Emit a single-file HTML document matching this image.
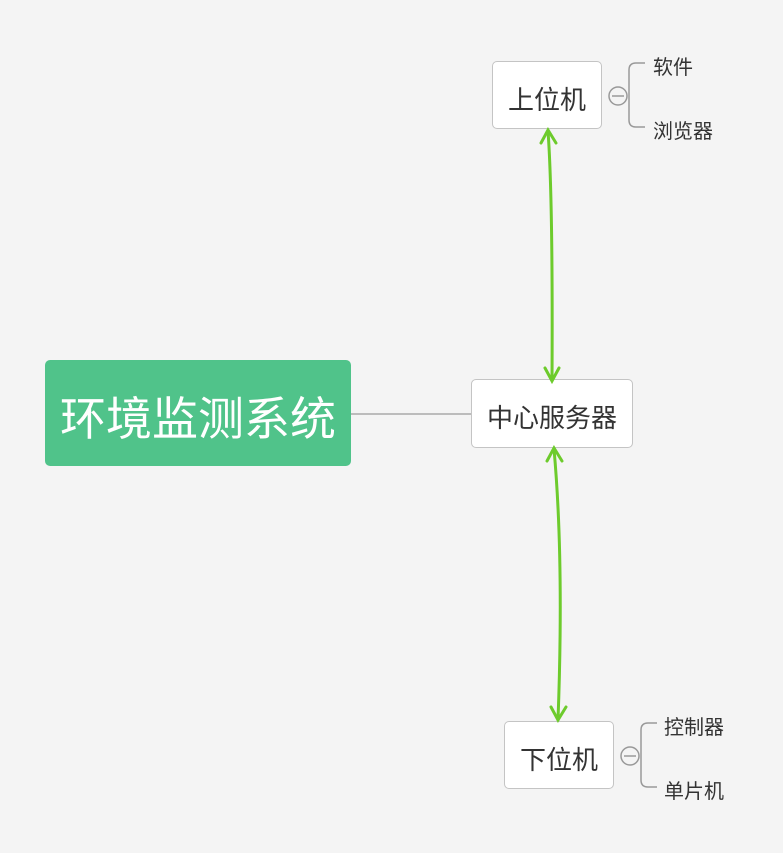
<!DOCTYPE html>
<html><head><meta charset="utf-8"><style>
body{margin:0;width:783px;height:853px;background:#f4f4f4;position:relative;overflow:hidden;font-family:"Liberation Sans","Noto Sans CJK SC",sans-serif;}
.b{position:absolute;background:#fff;border:1px solid #c4c4c4;border-radius:5px;box-sizing:border-box;color:#333;text-align:center;font-size:26px;}
.t{position:absolute;font-size:20px;color:#333;}
</style></head><body>
<div style="position:absolute;left:45px;top:360px;width:306px;height:106px;background:#50c38a;border-radius:5px;color:#fff;font-size:46px;line-height:118px;text-align:center">环境监测系统</div>
<div class="b" style="left:492px;top:61px;width:110px;height:68px;line-height:76px">上位机</div>
<div class="b" style="left:471px;top:379px;width:162px;height:69px;line-height:76px">中心服务器</div>
<div class="b" style="left:504px;top:721px;width:110px;height:68px;line-height:76px">下位机</div>
<div class="t" style="left:653px;top:51px">软件</div>
<div class="t" style="left:653px;top:115px">浏览器</div>
<div class="t" style="left:664px;top:711px">控制器</div>
<div class="t" style="left:664px;top:775px">单片机</div>
<svg width="783" height="853" style="position:absolute;left:0;top:0" fill="none">
<line x1="351" y1="414" x2="471" y2="414" stroke="#aaa" stroke-width="1.5"/>
<g stroke="#999" stroke-width="1.5">
<circle cx="618" cy="96" r="9"/><line x1="612" y1="96" x2="624" y2="96"/>
<path d="M645 63 H636 Q629 63 629 70 V120 Q629 127 636 127 H645"/>
<circle cx="630" cy="756" r="9"/><line x1="624" y1="756" x2="636" y2="756"/>
<path d="M657 723 H648 Q641 723 641 730 V780 Q641 787 648 787 H657"/>
</g>
<g stroke="#6dcb2c" stroke-width="3" stroke-linecap="round">
<path d="M548 131 Q553 200 552 380"/>
<path d="M541 143 L548 130 L556 143"/><path d="M545 368 L552 381 L559 368"/>
<path d="M554 449 Q564 560 558 720"/>
<path d="M547 461 L554 448 L562 461"/><path d="M551 707 L558 720 L566 707"/>
</g>
</svg>
</body></html>
